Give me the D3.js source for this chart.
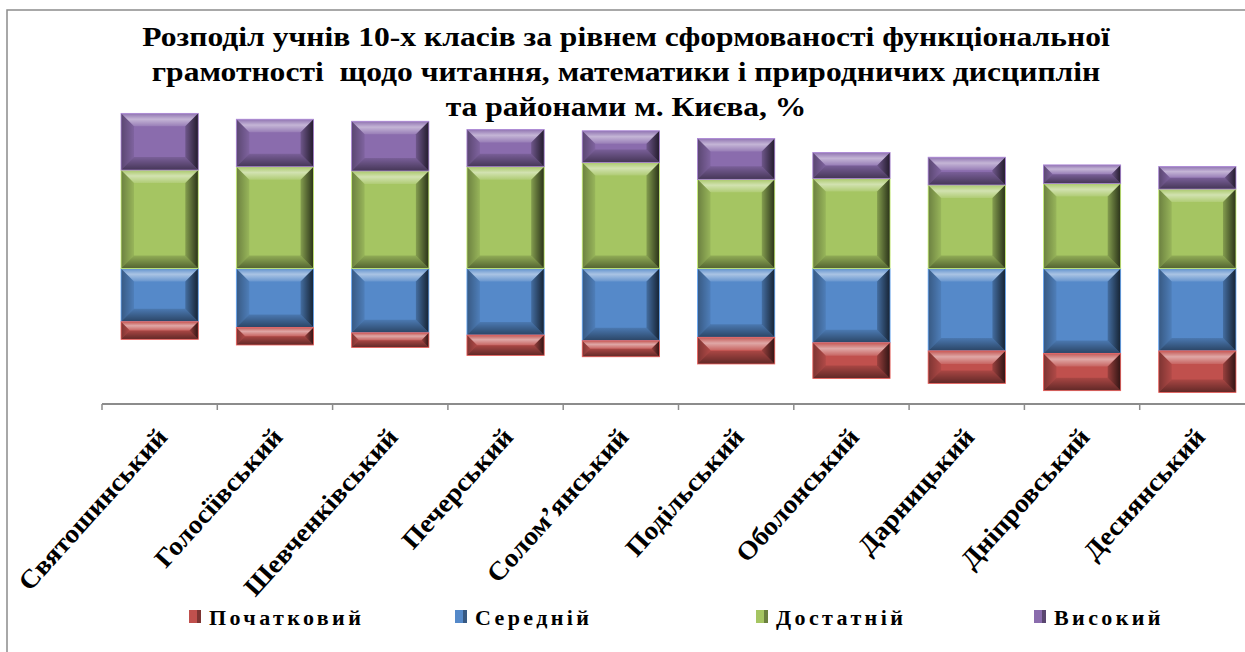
<!DOCTYPE html>
<html>
<head>
<meta charset="utf-8">
<script src="https://cdn.jsdelivr.net/npm/d3@7"></script>
<style>
  body { margin: 0; background: #fff; }
  svg { display: block; }
  text { font-family: "Liberation Serif", "Times New Roman", "DejaVu Serif", serif; font-weight: bold; }
</style>
</head>
<body>
<script>
// data (% of pupils per district)
const districts = ['Святошинський', 'Голосіївський', 'Шевченківський', 'Печерський', 'Солом\u2019янський',
  'Подільський', 'Оболонський', 'Дарницький', 'Дніпровський', 'Деснянський'];
const levels = ['Початковий', 'Середній', 'Достатній', 'Високий'];
const pochatkovyi = [7.8, 7.8, 6.5, 9.0, 7.1, 11.8, 15.8, 14.4, 16.5, 18.4];
const serednii    = [23.6, 26.1, 28.5, 29.5, 32.0, 30.5, 32.9, 36.5, 37.6, 36.5];
const dostatnii   = [43.5, 45.0, 43.1, 45.0, 46.9, 39.4, 39.8, 36.9, 37.6, 35.1];
const vysokyi     = [25.1, 21.0, 22.0, 16.5, 14.0, 18.1, 11.5, 12.3, 8.2, 10.0];
const colors = ['#C0504D', '#5589C9', '#A5C562', '#8A6CAD'];
const titleLines = [
  'Розподіл учнів 10-х класів за рівнем сформованості функціональної',
  'грамотності  щодо читання, математики і природничих дисциплін',
  'та районами м. Києва, %'
];

const W = 1245, H = 652;
const svg = d3.select('body').append('svg')
  .attr('width', W)
  .attr('height', H);

// bevel gradients
const defs = svg.append('defs');
function grad(id, x1, y1, x2, y2, color, stops) {
  const g = defs.append('linearGradient').attr('id', id)
    .attr('x1', x1).attr('y1', y1).attr('x2', x2).attr('y2', y2);
  stops.forEach(s => g.append('stop').attr('offset', s[0]).attr('stop-color', color).attr('stop-opacity', s[1]));
}
grad('bv-top', 0, 0, 0, 1, '#fff', [[0, 0.05], [0.45, 0.5], [1, 0.12]]);
grad('bv-bot', 0, 0, 0, 1, '#000', [[0, 0.12], [1, 0.5]]);
grad('bv-right', 0, 0, 1, 0, '#000', [[0, 0.2], [1, 0.75]]);
grad('bv-left', 0, 0, 1, 0, '#000', [[0, 0.35], [1, 0.08]]);

// frame
svg.append('rect')
  .attr('x', 7).attr('y', 10).attr('width', W).attr('height', H)
  .attr('fill', 'none').attr('stroke', '#8c8c8c').attr('stroke-width', 1.5);

// title
svg.append('g').selectAll('text')
  .data(titleLines)
  .enter()
  .append('text')
  .attr('transform', (d, i) => `translate(626,${46 + i * 35}) scale(1.17,1)`)
  .attr('text-anchor', 'middle')
  .attr('font-size', 27)
  .style('white-space', 'pre')
  .text(d => d);

const x = d3.scaleBand()
  .domain(districts)
  .range([102, 102 + 115.3 * districts.length])
  .paddingInner(0.33)
  .paddingOuter(0.165);

const y = d3.scaleLinear()
  .domain([-60, 70])
  .range([404, 110.2]);

// build segments
const segs = [];
districts.forEach((d, i) => {
  const b = serednii[i], r = pochatkovyi[i], g = dostatnii[i], p = vysokyi[i];
  segs.push({ d, lvl: 1, lo: -b, hi: 0 });
  segs.push({ d, lvl: 0, lo: -b - r, hi: -b });
  segs.push({ d, lvl: 2, lo: 0, hi: g });
  segs.push({ d, lvl: 3, lo: g, hi: g + p });
});

const bars = svg.append('g').selectAll('g')
  .data(segs)
  .enter()
  .append('g');

bars.each(function(s) {
  const g = d3.select(this);
  const x0 = x(s.d), x1 = x(s.d) + x.bandwidth();
  const y0 = y(s.hi), y1 = y(s.lo);
  const bw = Math.min(13, (y1 - y0) / 2, (x1 - x0) / 2);
  g.append('rect')
    .attr('x', x0).attr('y', y0)
    .attr('width', x1 - x0).attr('height', y1 - y0)
    .attr('fill', colors[s.lvl]);
  const polys = [
    ['bv-top', [[x0, y0], [x1, y0], [x1 - bw, y0 + bw], [x0 + bw, y0 + bw]]],
    ['bv-bot', [[x0 + bw, y1 - bw], [x1 - bw, y1 - bw], [x1, y1], [x0, y1]]],
    ['bv-left', [[x0, y0], [x0 + bw, y0 + bw], [x0 + bw, y1 - bw], [x0, y1]]],
    ['bv-right', [[x1 - bw, y0 + bw], [x1, y0], [x1, y1], [x1 - bw, y1 - bw]]]
  ];
  polys.forEach(pp => {
    g.append('polygon')
      .attr('points', pp[1].map(q => q.join(',')).join(' '))
      .attr('fill', `url(#${pp[0]})`);
  });
  g.append('rect')
    .attr('x', x0).attr('y', y0)
    .attr('width', x1 - x0).attr('height', y1 - y0)
    .attr('fill', 'none')
    .attr('stroke', d3.color(colors[s.lvl]).brighter(0.6))
    .attr('stroke-width', 0.8);
});

// category axis
const axisY = y(-60);
svg.append('line')
  .attr('x1', 102).attr('x2', W)
  .attr('y1', axisY).attr('y2', axisY)
  .attr('stroke', '#8c8c8c').attr('stroke-width', 2);

svg.append('g').selectAll('line')
  .data(d3.range(districts.length + 1))
  .enter()
  .append('line')
  .attr('x1', i => 102 + i * x.step())
  .attr('x2', i => 102 + i * x.step())
  .attr('y1', axisY)
  .attr('y2', axisY + 6)
  .attr('stroke', '#8c8c8c').attr('stroke-width', 1.5);

svg.append('g').selectAll('text')
  .data(districts)
  .enter()
  .append('text')
  .attr('transform', d => `translate(${x(d) + x.bandwidth() / 2 + 9},${axisY + 34}) rotate(-48) scale(1.07,1)`)
  .attr('text-anchor', 'end')
  .attr('font-size', 26)
  .text(d => d);

// legend
const legendX = [189, 455, 756, 1034];
const lg = svg.append('g').selectAll('g')
  .data(levels)
  .enter()
  .append('g')
  .attr('transform', (d, i) => `translate(${legendX[i]},610)`);

lg.append('rect')
  .attr('width', 12).attr('height', 13)
  .attr('fill', (d, i) => colors[i]);
lg.append('rect')
  .attr('x', 8).attr('width', 4).attr('height', 13)
  .attr('fill', 'rgba(0,0,0,0.35)');
lg.append('text')
  .attr('x', 20)
  .attr('y', 15)
  .attr('font-size', 22)
  .attr('letter-spacing', 3.4)
  .text(d => d);
</script>
</body>
</html>
